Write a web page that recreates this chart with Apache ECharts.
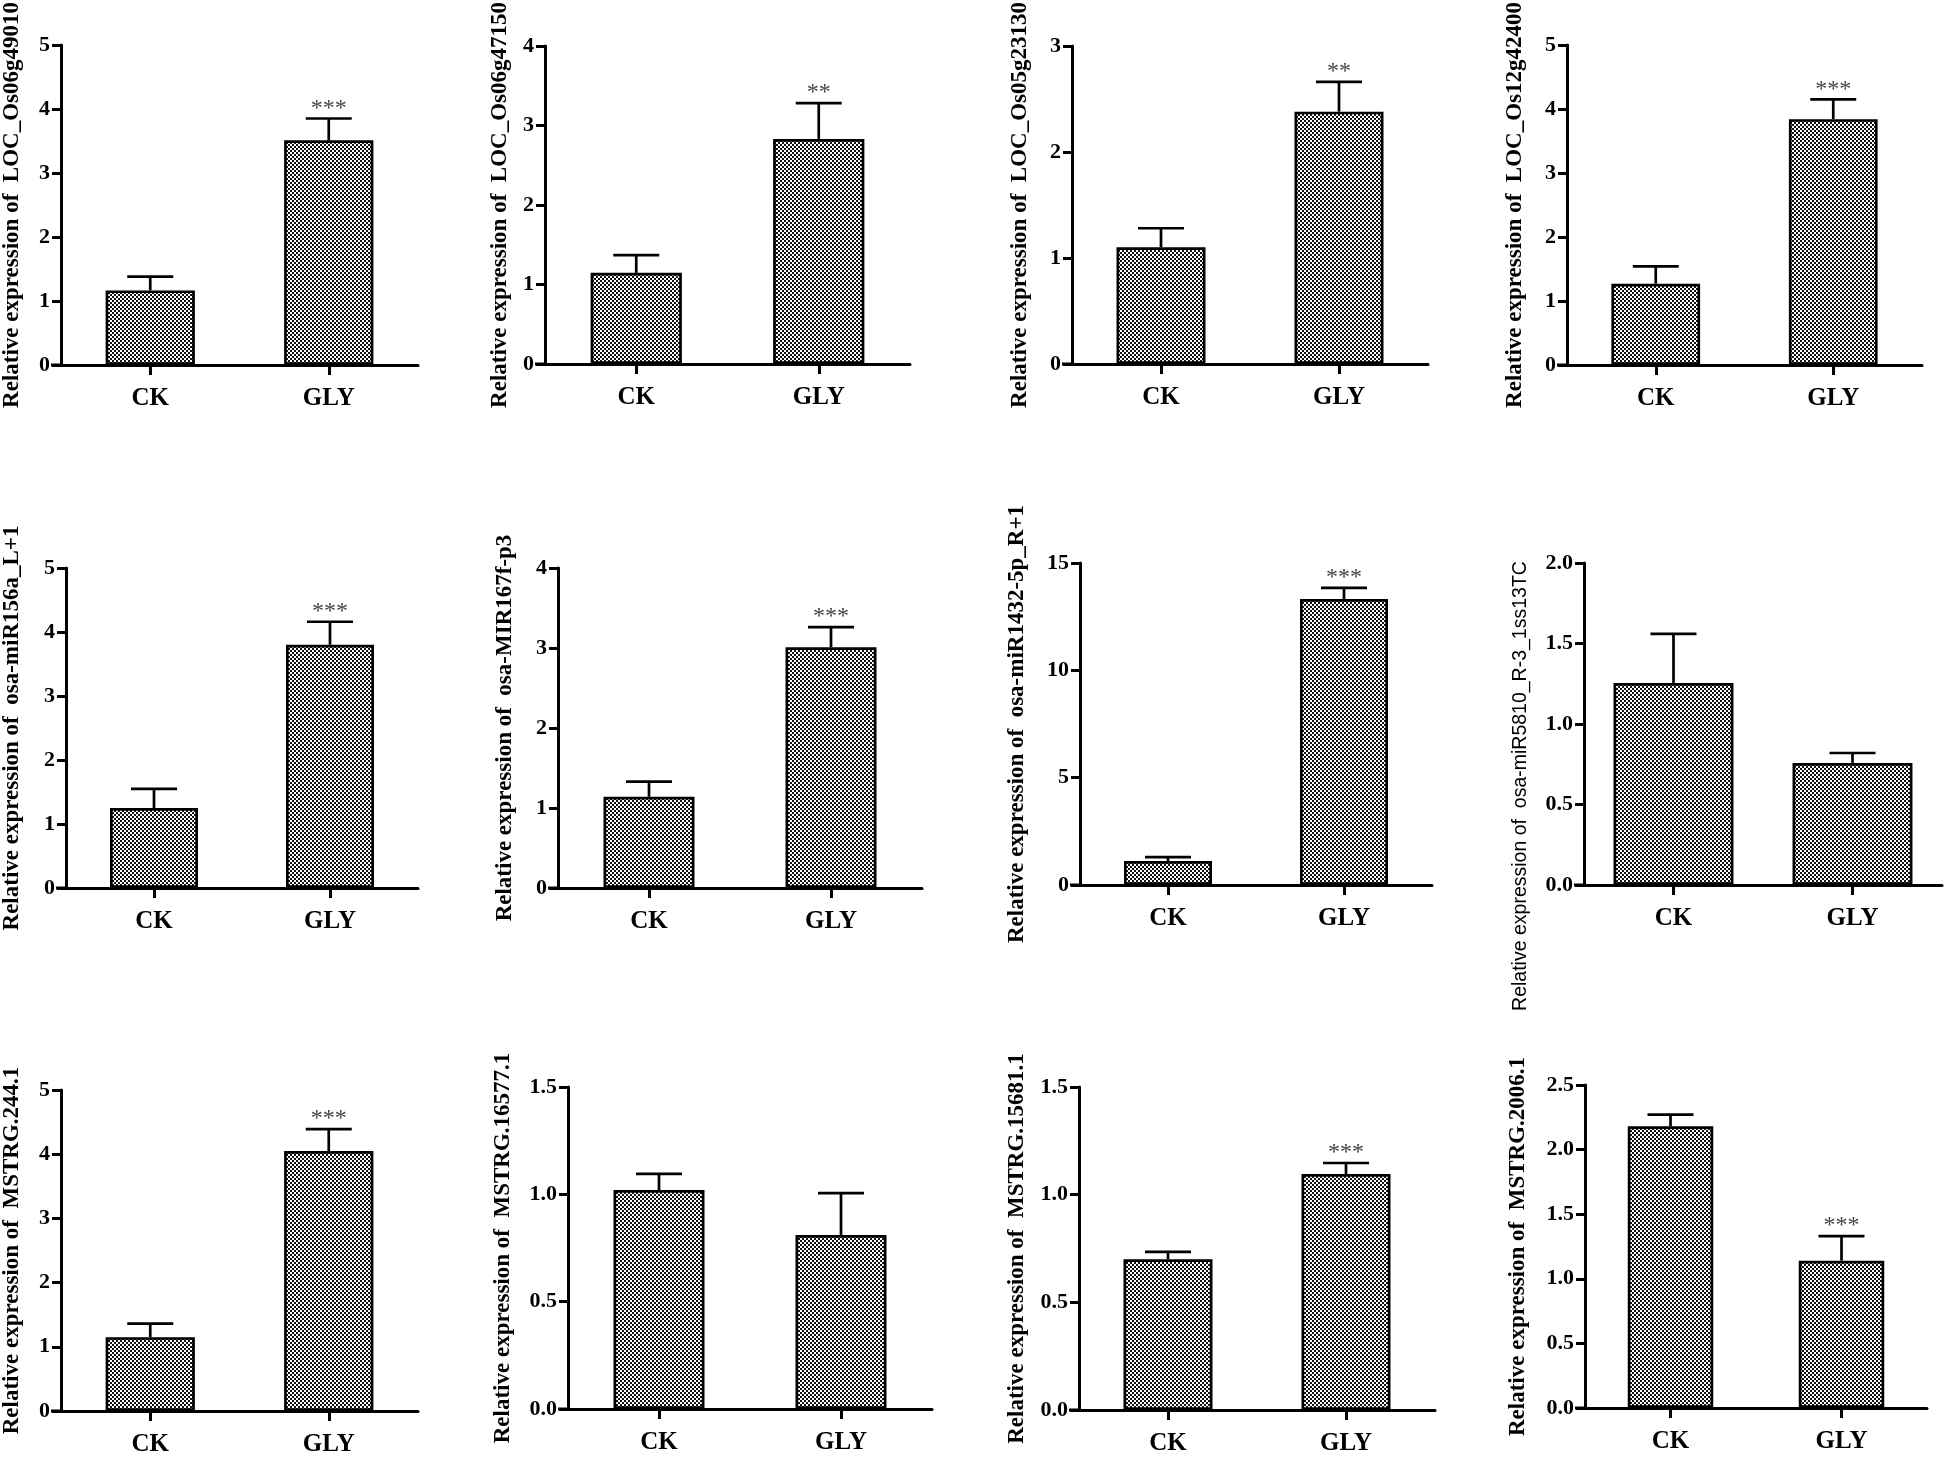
<!DOCTYPE html>
<html><head><meta charset="utf-8">
<script src="https://cdn.jsdelivr.net/npm/echarts@6/dist/echarts.min.js"></script>
<style>html,body{margin:0;padding:0;background:#fff}#c{width:1946px;height:1457px}</style>
</head><body><div id="c"></div>
<script>
// ---------- DATA ----------
const categories = ['CK', 'GLY'];
const geneNames = [
  'LOC_Os06g49010', 'LOC_Os06g47150', 'LOC_Os05g23130', 'LOC_Os12g42400',
  'osa-miR156a_L+1', 'osa-MIR167f-p3', 'osa-miR1432-5p_R+1', 'osa-miR5810_R-3_1ss13TC',
  'MSTRG.244.1', 'MSTRG.16577.1', 'MSTRG.15681.1', 'MSTRG.2006.1'
];
const ckMean   = [1.165, 1.146, 1.10, 1.27, 1.25, 1.14, 1.12, 1.255, 1.15, 1.02, 0.70, 2.18];
const ckUpper  = [1.38, 1.37, 1.28, 1.54, 1.55, 1.33, 1.30, 1.56, 1.36, 1.095, 0.734, 2.27];
const glyMean  = [3.51, 2.83, 2.38, 3.84, 3.80, 3.01, 13.32, 0.758, 4.05, 0.81, 1.096, 1.14];
const glyUpper = [3.85, 3.28, 2.66, 4.15, 4.16, 3.26, 13.84, 0.82, 4.39, 1.006, 1.147, 1.33];
const sigLabels = ['***', '**', '**', '***', '***', '***', '***', '', '***', '', '***', '***'];
const yMax      = [5, 4, 3, 5, 5, 4, 15, 2, 5, 1.5, 1.5, 2.5];
const yStep     = [1, 1, 1, 1, 1, 1, 5, 0.5, 1, 0.5, 0.5, 0.5];
const yDecimals = [0, 0, 0, 0, 0, 0, 0, 1, 0, 1, 1, 1];

// ---------- LAYOUT ----------
// [axisX, plotRight, top(max tick), bottom(zero)]
const panelBox = [
  [60, 418, 43, 365], [545, 910, 43, 364], [1072, 1428, 43, 364], [1567, 1922, 43, 365],
  [66, 418, 568, 888], [558, 922, 568, 888], [1080, 1432, 563, 885], [1584, 1942, 563, 885],
  [61, 418, 1090, 1411], [568, 932, 1087, 1409], [1079, 1435, 1087, 1410], [1585, 1927, 1085, 1408]
];
const nameGaps = [37, 33, 40, 40, 42, 41, 51, 53, 37, 53, 50, 55];

// dotted fill pattern
const pat = document.createElement('canvas');
pat.width = 4; pat.height = 4;
const pc = pat.getContext('2d');
pc.fillStyle = '#ffffff'; pc.fillRect(0, 0, 4, 4);
pc.fillStyle = '#111111'; pc.fillRect(0, 0, 2, 2); pc.fillRect(2, 2, 2, 2);
const fillPattern = { image: pat, repeat: 'repeat' };

const serif = 'Liberation Serif, Times New Roman, serif';
const grids = [], xAxes = [], yAxes = [], series = [];

geneNames.forEach((g, i) => {
  const [ax, pr, tp, bt] = panelBox[i];
  grids.push({ left: ax, top: tp, width: pr - ax, height: bt - tp, containLabel: false });
  xAxes.push({
    type: 'category', gridIndex: i, data: categories,
    axisLine: { show: true, lineStyle: { color: '#000', width: 3 } },
    axisTick: { show: true, alignWithLabel: true, length: 10, lineStyle: { color: '#000', width: 3 } },
    axisLabel: { color: '#000', fontFamily: serif, fontWeight: 'bold', fontSize: 25, margin: 21 },
    splitLine: { show: false }
  });
  const special = (i === 7);
  yAxes.push({
    type: 'value', gridIndex: i, min: 0, max: yMax[i], interval: yStep[i],
    name: 'Relative expression of  ' + g,
    nameLocation: 'middle', nameGap: nameGaps[i],
    nameTextStyle: special
      ? { color: '#000', fontFamily: 'Liberation Sans, Arial, sans-serif', fontWeight: 'normal', fontSize: 19.5, padding: [0, 124, 0, 0] }
      : { color: '#000', fontFamily: serif, fontWeight: 'bold', fontSize: 23 },
    axisLine: { show: true, lineStyle: { color: '#000', width: 3 } },
    axisTick: { show: true, length: 9, lineStyle: { color: '#000', width: 3 } },
    axisLabel: {
      color: '#000', fontFamily: serif, fontWeight: 'bold', fontSize: 22, margin: 11,
      formatter: (v) => v.toFixed(yDecimals[i])
    },
    splitLine: { show: false }
  });
  series.push({
    type: 'bar', xAxisIndex: i, yAxisIndex: i,
    data: [ckMean[i], glyMean[i]],
    barWidth: special ? '67%' : '50%',
    itemStyle: { color: fillPattern, borderColor: '#000', borderWidth: 2.7 },
    silent: true, animation: false
  });
  series.push({
    type: 'custom', xAxisIndex: i, yAxisIndex: i,
    data: [[0, ckMean[i], ckUpper[i]], [1, glyMean[i], glyUpper[i]]],
    renderItem: (params, api) => {
      const idx = api.value(0);
      const base = api.coord([idx, api.value(1)]);
      const top = api.coord([idx, api.value(2)]);
      const children = [
        { type: 'line', shape: { x1: top[0], y1: base[1], x2: top[0], y2: top[1] }, style: { stroke: '#000', lineWidth: 2.7 } },
        { type: 'line', shape: { x1: top[0] - 23, y1: top[1], x2: top[0] + 23, y2: top[1] }, style: { stroke: '#000', lineWidth: 2.7 } }
      ];
      if (idx === 1 && sigLabels[i]) {
        children.push({ type: 'text', style: { text: sigLabels[i], x: top[0], y: top[1] - 10, align: 'center', verticalAlign: 'middle', fill: '#444', font: 'normal 24px ' + serif } });
      }
      if (idx === 0) {
        const cs = params.coordSys;
        children.push({ type: 'line', shape: { x1: cs.x - 10, y1: cs.y + cs.height, x2: cs.x, y2: cs.y + cs.height }, style: { stroke: '#000', lineWidth: 3 } });
      }
      return { type: 'group', children };
    },
    z: 5, silent: true, animation: false
  });
});

const chart = echarts.init(document.getElementById('c'), null, { renderer: 'canvas' });
chart.setOption({
  backgroundColor: '#ffffff',
  animation: false,
  grid: grids, xAxis: xAxes, yAxis: yAxes, series
});
</script>
</body></html>
